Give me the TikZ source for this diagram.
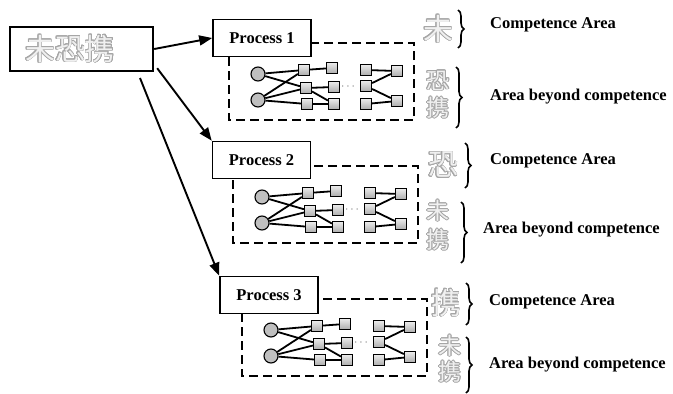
\documentclass[tikz,border=0pt]{standalone}
\usepackage{fontspec}
\setmainfont{Liberation Serif}
\newfontfamily\cjk{Noto Sans CJK SC}
\usepackage{contour}
\contourlength{0.6pt}
\usetikzlibrary{arrows.meta,decorations.pathreplacing}

\tikzset{
  mainbox/.style={draw, line width=2.4pt, minimum width=143pt, minimum height=44pt, inner sep=0pt, fill=white},
  procbox/.style={draw, line width=1.6pt, minimum width=98pt, minimum height=37pt, inner sep=0pt, fill=white,
                  font=\fontsize{16.5}{18}\selectfont\bfseries},
  zone/.style={draw, line width=1.7pt, dash pattern=on 9pt off 5pt},
  sq/.style={draw, line width=1.1pt, minimum size=11pt, inner sep=0pt, top color=gray!15, bottom color=gray!65},
  ci/.style={circle, draw, line width=1.1pt, minimum size=14pt, inner sep=0pt, fill=gray!50},
  link/.style={line width=1.8pt},
  flow/.style={line width=1.9pt, -{Triangle[length=13pt,width=10pt]}},
  hanzi/.style={inner sep=0pt, font=\cjk\fontsize{#1}{#1}\selectfont},
  hanzi/.default=26,
  label/.style={anchor=west, inner sep=0pt, font=\fontsize{16.5}{18}\selectfont\bfseries},
  curly/.style={line width=1.6pt, decorate, decoration={brace, amplitude=6pt}}
}

% outlined pale character
\newcommand\paleglyph[1]{{\color{gray!12}\contour{gray!70}{#1}}}

% one small network: #1 name prefix, (#2,#3) centre of the upper circle
\newcommand\drawnet[3]{%
  \begin{scope}[shift={(#2,#3)}]
    \draw[zone] (-29,-31) rectangle (156,46);
    \node[ci] (#1c1) at (0,0) {};
    \node[ci] (#1c2) at (0,26) {};
    \node[sq] (#1a1) at (46,-4) {};
    \node[sq] (#1a2) at (48,14) {};
    \node[sq] (#1a3) at (49,30) {};
    \node[sq] (#1b1) at (74,-6) {};
    \node[sq] (#1b2) at (76,13) {};
    \node[sq] (#1b3) at (76,30) {};
    \node[inner sep=0pt, text=black!55, font=\large] (#1dots) at (90,13) {$\cdots$};
    \node[sq] (#1d1) at (108,-4) {};
    \node[sq] (#1d2) at (108,12) {};
    \node[sq] (#1d3) at (108,30) {};
    \node[sq] (#1e1) at (139,-3) {};
    \node[sq] (#1e2) at (139,27) {};
    \draw[link] (#1c1) -- (#1a1);
    \draw[link] (#1c1) -- (#1a2);
    \draw[link] (#1c2) -- (#1a1);
    \draw[link] (#1c2) -- (#1a2);
    \draw[link] (#1c2) -- (#1a3);
    \draw[link] (#1a1) -- (#1b1);
    \draw[link] (#1a2) -- (#1b2);
    \draw[link] (#1a2) -- (#1b3);
    \draw[link] (#1a3) -- (#1b3);
    \draw[link] (#1d1) -- (#1e1);
    \draw[link] (#1d2) -- (#1e1);
    \draw[link] (#1d2) -- (#1e2);
    \draw[link] (#1d3) -- (#1e2);
  \end{scope}}

\begin{document}
\begin{tikzpicture}[x=1pt, y=-1pt]
  \useasboundingbox (0,0) rectangle (673,394);
  \fill[white] (0,0) rectangle (673,394);

  % source box
  \node[mainbox] (main) at (81.5,49) {};
  \node[hanzi=30, anchor=center] (mainlabel) at (70,49) {\paleglyph{未恐携}};

  % three processes with their networks
  \drawnet{n1}{258}{74}
  \drawnet{n2}{262}{197}
  \drawnet{n3}{271}{330}

  \node[procbox] (p1) at (262,38) {Process 1};
  \node[procbox] (p2) at (261.5,160) {Process 2};
  \node[procbox] (p3) at (269,295) {Process 3};

  % arrows from the source
  \coordinate (m3) at (140,78);
  \draw[flow] (main.east) -- (p1.west);
  \draw[flow] ([shift={(3,-4)}]main.south east) -- (p2.north west);
  \draw[flow] (m3) -- (p3.north west);

  % right-hand side: characters, braces, captions
  \node[hanzi=30] (k1) at (438,29) {\paleglyph{未}};
  \node[hanzi=23] (k2) at (438,81) {\paleglyph{恐}};
  \node[hanzi=23] (k3) at (438,108) {\paleglyph{携}};
  \draw[curly] (458,10) -- (458,48);
  \draw[curly] (456,67) -- (456,128);
  \node[label] (t1) at (490,25) {Competence Area};
  \node[label] (t2) at (490,97) {Area beyond competence};

  \node[hanzi=30] (k4) at (443,165) {\paleglyph{恐}};
  \node[hanzi=23] (k5) at (438,211) {\paleglyph{未}};
  \node[hanzi=23] (k6) at (438,240) {\paleglyph{携}};
  \draw[curly] (465,143) -- (465,188);
  \draw[curly] (461,202) -- (461,263);
  \node[label] (t3) at (490,161) {Competence Area};
  \node[label] (t4) at (483,230) {Area beyond competence};

  \node[hanzi=30] (k7) at (446,303) {\paleglyph{携}};
  \node[hanzi=23] (k8) at (450,346) {\paleglyph{未}};
  \node[hanzi=23] (k9) at (450,372) {\paleglyph{携}};
  \draw[curly] (466,283) -- (466,325);
  \draw[curly] (466,337) -- (466,393);
  \node[label] (t5) at (489,302) {Competence Area};
  \node[label] (t6) at (489,365) {Area beyond competence};
\end{tikzpicture}
\end{document}
